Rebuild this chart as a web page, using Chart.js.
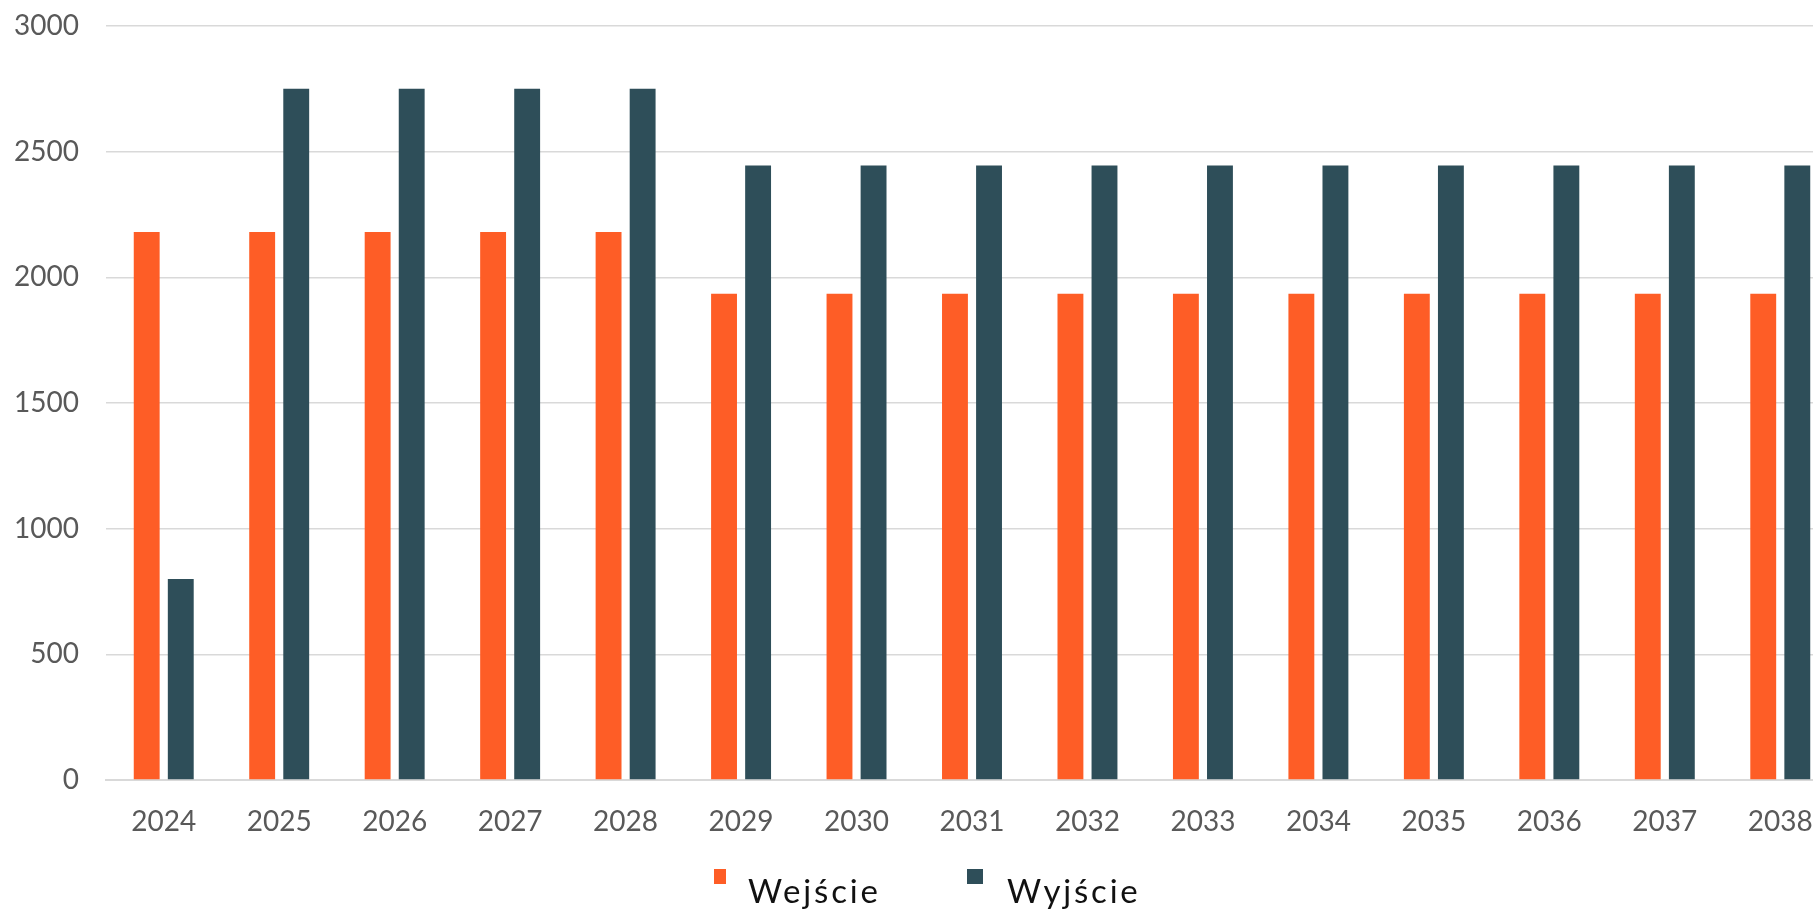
<!DOCTYPE html>
<html lang="pl">
<head>
<meta charset="UTF-8">
<title>Wejście / Wyjście</title>
<script src="https://cdn.jsdelivr.net/npm/chart.js@4/dist/chart.umd.min.js"></script>
<style>
    html, body {
        margin: 0;
        padding: 0;
        background: #ffffff;
        overflow: hidden;
        width: 1813px;
        height: 909px;
    }
    .chart-box {
        position: absolute;
        left: 0;
        top: 0;
        width: 1838px;
        height: 909px;
    }
    .legend-box {
        position: absolute;
        height: 15px;
    }
    .legend-text {
        position: absolute;
        font-family: Lato, 'Open Sans', sans-serif;
        font-size: 33px;
        line-height: 33px;
        letter-spacing: 2.8px;
        color: #111111;
        white-space: nowrap;
    }
</style>
</head>
<body>
<div class="chart-box"><canvas id="wejWyjChart"></canvas></div>

<div class="legend-box" style="left:714px; top:869px; width:12px; background:#FE5D26;"></div>
<div class="legend-text" style="left:748px; top:874px;">Wejście</div>
<div class="legend-box" style="left:967px; top:869px; width:16px; background:#2E4E59;"></div>
<div class="legend-text" style="left:1007px; top:874px;">Wyjście</div>

<script>
// --- dane wykresu ---
const lata = ['2024', '2025', '2026', '2027', '2028', '2029', '2030', '2031',
              '2032', '2033', '2034', '2035', '2036', '2037', '2038'];
const wejscie = [2180, 2180, 2180, 2180, 2180, 1935, 1935, 1935,
                 1935, 1935, 1935, 1935, 1935, 1935, 1935];
const wyjscie = [800, 2750, 2750, 2750, 2750, 2445, 2445, 2445,
                 2445, 2445, 2445, 2445, 2445, 2445, 2445];
const osY = [0, 500, 1000, 1500, 2000, 2500, 3000];

document.addEventListener('DOMContentLoaded', function () {

    const ctx = document.getElementById('wejWyjChart').getContext('2d');

    new Chart(ctx, {
        type: 'bar',
        data: {
            labels: lata,
            datasets: [{
                label: 'Wejście',
                data: wejscie,
                backgroundColor: '#FE5D26',
                categoryPercentage: 0.59,
                barPercentage: 0.76
            }, {
                label: 'Wyjście',
                data: wyjscie,
                backgroundColor: '#2E4E59',
                categoryPercentage: 0.59,
                barPercentage: 0.76
            }]
        },
        options: {
            responsive: true,
            maintainAspectRatio: false,
            animation: false,
            layout: {
                padding: { top: 26, left: 0, right: 0, bottom: 0 }
            },
            scales: {
                x: {
                    grid: { display: false },
                    border: { color: '#d9d9d9', width: 2 },
                    ticks: {
                        color: '#595959',
                        padding: 17,
                        maxRotation: 0,
                        font: { family: 'Lato', size: 28 }
                    },
                    afterFit: function (scale) { scale.height = 129; }
                },
                y: {
                    min: 0,
                    max: osY[osY.length - 1],
                    afterBuildTicks: function (scale) {
                        scale.ticks = osY.map(v => ({ value: v }));
                    },
                    grid: {
                        color: '#d9d9d9',
                        lineWidth: 1.5,
                        drawTicks: true,
                        tickLength: 27,          // odstęp etykiet od osi
                        tickColor: 'rgba(0,0,0,0)'
                    },
                    border: { display: false },
                    ticks: {
                        color: '#595959',
                        padding: 0,
                        font: { family: 'Lato', size: 28 },
                        callback: function (v) { return String(v); }
                    },
                    afterFit: function (scale) { scale.width = 106; }
                }
            },
            plugins: {
                legend: { display: false },
                tooltip: { enabled: false }
            }
        }
    });
});
</script>
</body>
</html>
